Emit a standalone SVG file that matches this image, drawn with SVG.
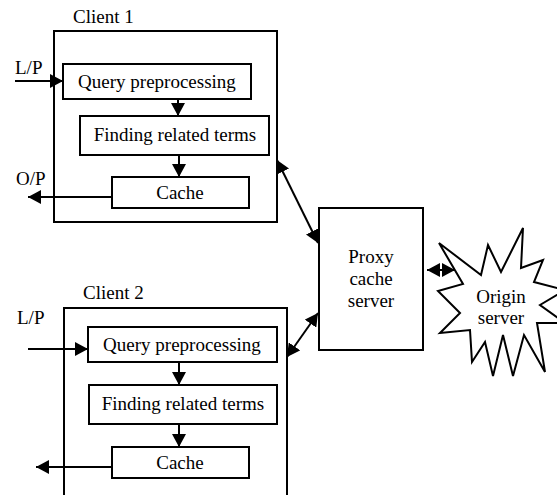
<svg xmlns="http://www.w3.org/2000/svg" width="557" height="495" viewBox="0 0 557 495">
<style>
.box{fill:#fff;stroke:#000;stroke-width:2}
.t{font-family:'Liberation Serif','DejaVu Serif',serif;font-size:19px;fill:#000}
.c{text-anchor:middle}
.ln{stroke:#000;stroke-width:2;fill:none}
</style>
<defs>
<marker id="ah" markerUnits="userSpaceOnUse" markerWidth="13" markerHeight="14" refX="13" refY="7" orient="auto-start-reverse">
<path d="M0,0 L13,7 L0,14 z" fill="#000"/>
</marker>
</defs>
<rect width="557" height="495" fill="#fff"/>
<g id="client1">
<rect class="box" x="54" y="31" width="223" height="191"/>
<text class="t" x="73" y="23">Client 1</text>
</g>
<g id="qp1">
<rect class="box" x="63" y="64" width="188" height="35"/>
<text class="t c" x="157" y="88">Query preprocessing</text>
</g>
<g id="frt1">
<rect class="box" x="80" y="116" width="189" height="39"/>
<text class="t c" x="175" y="141">Finding related terms</text>
</g>
<g id="cache1">
<rect class="box" x="112" y="177" width="137" height="31"/>
<text class="t c" x="180" y="199">Cache</text>
</g>
<g id="client2">
<path class="ln" d="M64,500 V308 H287 V500"/>
<text class="t" x="83" y="299">Client 2</text>
</g>
<g id="qp2">
<rect class="box" x="88" y="327" width="189" height="35"/>
<text class="t c" x="182" y="351">Query preprocessing</text>
</g>
<g id="frt2">
<rect class="box" x="89" y="385" width="188" height="39"/>
<text class="t c" x="183" y="410">Finding related terms</text>
</g>
<g id="cache2">
<rect class="box" x="112" y="447" width="137" height="31"/>
<text class="t c" x="180" y="469">Cache</text>
</g>
<g id="proxy">
<rect class="box" x="319" y="208" width="104" height="142"/>
<text class="t c" x="371" y="263">Proxy</text>
<text class="t c" x="371" y="285">cache</text>
<text class="t c" x="371" y="307">server</text>
</g>
<g id="origin">
<polygon class="box" points="439,243 481,275 488,245 501,272 523,228 521,268 543,260 534,282 565,290 540,305 565,323 537,323 545,372 524,335 513,376 503,335 493,376 485,342 472,362 470,330 440,333 460,313 438,291 463,284"/>
<text class="t c" x="501" y="303">Origin</text>
<text class="t c" x="501" y="324">server</text>
</g>
<g id="connectors">
<line class="ln" x1="15" y1="81" x2="63" y2="81" marker-end="url(#ah)"/>
<text class="t" x="15" y="74">L/P</text>
<line class="ln" x1="178" y1="99" x2="178" y2="116" marker-end="url(#ah)"/>
<line class="ln" x1="179" y1="155" x2="179" y2="177" marker-end="url(#ah)"/>
<line class="ln" x1="112" y1="197" x2="28" y2="197" marker-end="url(#ah)"/>
<text class="t" x="16" y="185">O/P</text>
<line class="ln" x1="277" y1="160" x2="318" y2="243" marker-start="url(#ah)" marker-end="url(#ah)"/>
<line class="ln" x1="318" y1="313" x2="287" y2="357" marker-start="url(#ah)" marker-end="url(#ah)"/>
<line class="ln" x1="427" y1="270" x2="455" y2="270" marker-start="url(#ah)" marker-end="url(#ah)"/>
<line class="ln" x1="28" y1="349" x2="88" y2="349" marker-end="url(#ah)"/>
<text class="t" x="17" y="324">L/P</text>
<line class="ln" x1="179" y1="362" x2="179" y2="385" marker-end="url(#ah)"/>
<line class="ln" x1="179" y1="424" x2="179" y2="447" marker-end="url(#ah)"/>
<line class="ln" x1="112" y1="467" x2="36" y2="467" marker-end="url(#ah)"/>
</g>
</svg>
